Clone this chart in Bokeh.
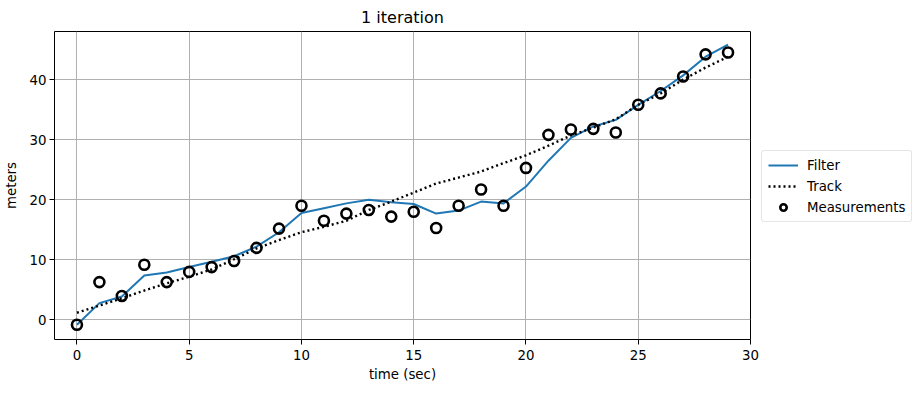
from bokeh.plotting import figure
from bokeh.models import Range1d, Legend, LegendItem, FixedTicker
from bokeh.embed import file_html
from bokeh.resources import INLINE

t = list(range(30))
measurements = [-0.8, 6.3, 4.0, 9.2, 6.3, 8.0, 8.8, 9.8, 12.0, 15.2,
                19.0, 16.5, 17.7, 18.3, 17.2, 18.0, 15.3, 19.0, 21.7, 19.0,
                25.3, 30.8, 31.7, 31.8, 31.2, 35.8, 37.7, 40.5, 44.2, 44.5]
filt = [-0.8, 2.8, 3.9, 7.4, 7.9, 8.8, 9.7, 10.6, 12.2, 14.6,
        17.8, 18.6, 19.4, 20.0, 19.6, 19.3, 17.7, 18.2, 19.7, 19.4,
        22.2, 26.5, 30.3, 32.2, 33.3, 35.8, 38.1, 40.7, 43.8, 45.8]
track = [1.2, 2.4, 3.6, 4.9, 6.1, 7.2, 8.4, 10.1, 11.9, 13.3,
         14.6, 15.5, 16.5, 18.3, 19.7, 21.2, 22.7, 23.7, 24.7, 26.1,
         27.4, 29.0, 30.7, 32.0, 33.4, 35.8, 37.7, 40.0, 42.0, 43.8]
x_ticks = [0, 5, 10, 15, 20, 25, 30]
y_ticks = [0, 10, 20, 30, 40]

FONT = "DejaVu Sans"

p = figure(frame_width=696, frame_height=308, output_backend="svg", toolbar_location=None,
           x_range=Range1d(-1.0, 30), y_range=Range1d(-3.25, 48),
           min_border_left=49, min_border_right=0, min_border_top=24, min_border_bottom=45,
           title="1 iteration")
p.title.align = "center"
p.title.text_font = FONT
p.title.text_font_size = "12pt"
p.title.text_font_style = "normal"
p.title.text_color = "black"

p.outline_line_color = "black"
p.outline_line_width = 1
p.outline_line_alpha = 1

for ax in (p.xaxis[0], p.yaxis[0]):
    ax.axis_line_color = None
    ax.minor_tick_line_color = None
    ax.major_tick_in = 0
    ax.major_tick_out = 5
    ax.major_tick_line_color = "black"
    ax.major_label_text_font = FONT
    ax.major_label_text_font_size = "10pt"
    ax.major_label_text_color = "black"
    ax.axis_label_text_font = FONT
    ax.axis_label_text_font_size = "10pt"
    ax.axis_label_text_font_style = "normal"
    ax.axis_label_text_color = "black"

p.xaxis.ticker = FixedTicker(ticks=x_ticks)
p.yaxis.ticker = FixedTicker(ticks=y_ticks)
p.xaxis.axis_label = "time (sec)"
p.yaxis.axis_label = "meters"
p.xaxis.axis_label_standoff = 4
p.yaxis.major_label_standoff = 3
p.yaxis.axis_label_standoff = 8

p.grid.grid_line_color = "#b0b0b0"
p.grid.grid_line_width = 1
p.xgrid.ticker = FixedTicker(ticks=x_ticks)
p.ygrid.ticker = FixedTicker(ticks=y_ticks)

r_filter = p.line(t, filt, line_color="#1f77b4", line_width=2)
r_track = p.line(t, track, line_color="black", line_width=2.4, line_dash="2 3")
r_meas = p.scatter(t, measurements, size=10, line_color="black", line_width=2.6,
                   fill_alpha=0)

legend = Legend(items=[LegendItem(label="Filter", renderers=[r_filter]),
                       LegendItem(label="Track", renderers=[r_track]),
                       LegendItem(label="Measurements", renderers=[r_meas])],
                location=(11, 117))
legend.label_text_font = FONT
legend.label_text_font_size = "10pt"
legend.label_text_color = "black"
legend.border_line_color = "#cccccc"
legend.border_line_width = 1
legend.border_radius = 3
legend.glyph_width = 30
legend.glyph_height = 16
legend.label_standoff = 9
legend.spacing = 5
legend.padding = 6
legend.margin = 0
p.add_layout(legend, "right")

open("out.html", "w").write(file_html(p, INLINE))
